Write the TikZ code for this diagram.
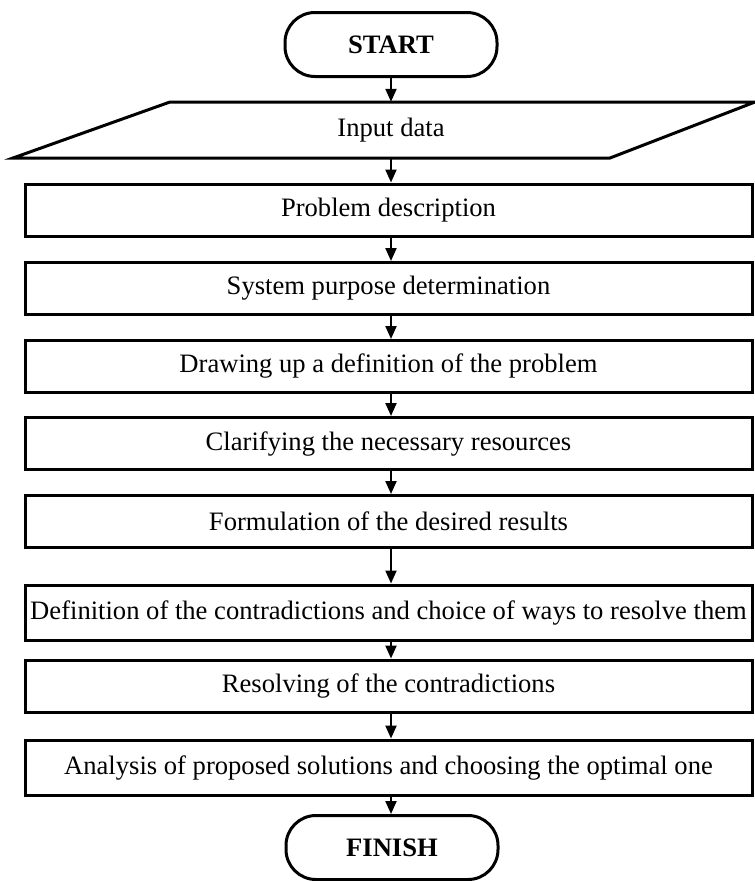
\documentclass[tikz,border=0pt]{standalone}
\usepackage{fontspec}
\setmainfont{Liberation Serif}
\usetikzlibrary{arrows.meta}
\begin{document}
\begin{tikzpicture}[x=1pt,y=-1pt,
  every node/.style={font=\fontsize{26.6}{31}\selectfont},
  term/.style={draw,line width=3pt,rounded corners=30pt,minimum width=212pt,minimum height=64pt,inner sep=0pt,font=\fontsize{26.6}{31}\selectfont\bfseries},
  stepbox/.style={draw,line width=3pt,minimum width=727pt,minimum height=52pt,inner sep=0pt},
  arr/.style={line width=2.2pt,-{Triangle[width=11pt,length=13pt]}}]
\useasboundingbox (0,0) rectangle (755,881);
\coordinate (axis) at (391,0);
\node[term] (start) at (391,44.5) {START};
\draw[line width=3pt,line join=miter] (170,102) -- (755,102) -- (610,158) -- (13,158) -- cycle;
\node[minimum height=56pt,inner sep=0pt] (input) at (391,130) {Input data};
\node[stepbox] (b1) at (388.5,210) {Problem description};
\node[stepbox] (b2) at (388.5,288.5) {System purpose determination};
\node[stepbox] (b3) at (388.5,366.5) {Drawing up a definition of the problem};
\node[stepbox] (b4) at (388.5,443.5) {Clarifying the necessary resources};
\node[stepbox] (b5) at (388.5,521.5) {Formulation of the desired results};
\node[stepbox,minimum height=55pt] (b6) at (388.5,612.5) {Definition of the contradictions and choice of ways to resolve them};
\node[stepbox] (b7) at (388.5,686) {Resolving of the contradictions};
\node[stepbox,minimum height=55pt] (b8) at (388.5,767.5) {Analysis of proposed solutions and choosing the optimal one};
\node[term] (finish) at (392,847.5) {FINISH};
\draw[arr] (start.south -| axis) -- (input.north -| axis);
\draw[arr] (input.south -| axis) -- (b1.north -| axis);
\draw[arr] (b1.south -| axis) -- (b2.north -| axis);
\draw[arr] (b2.south -| axis) -- (b3.north -| axis);
\draw[arr] (b3.south -| axis) -- (b4.north -| axis);
\draw[arr] (b4.south -| axis) -- (b5.north -| axis);
\draw[arr] (b5.south -| axis) -- (b6.north -| axis);
\draw[arr] (b6.south -| axis) -- (b7.north -| axis);
\draw[arr] (b7.south -| axis) -- (b8.north -| axis);
\draw[arr] (b8.south -| axis) -- (finish.north -| axis);
\end{tikzpicture}
\end{document}
